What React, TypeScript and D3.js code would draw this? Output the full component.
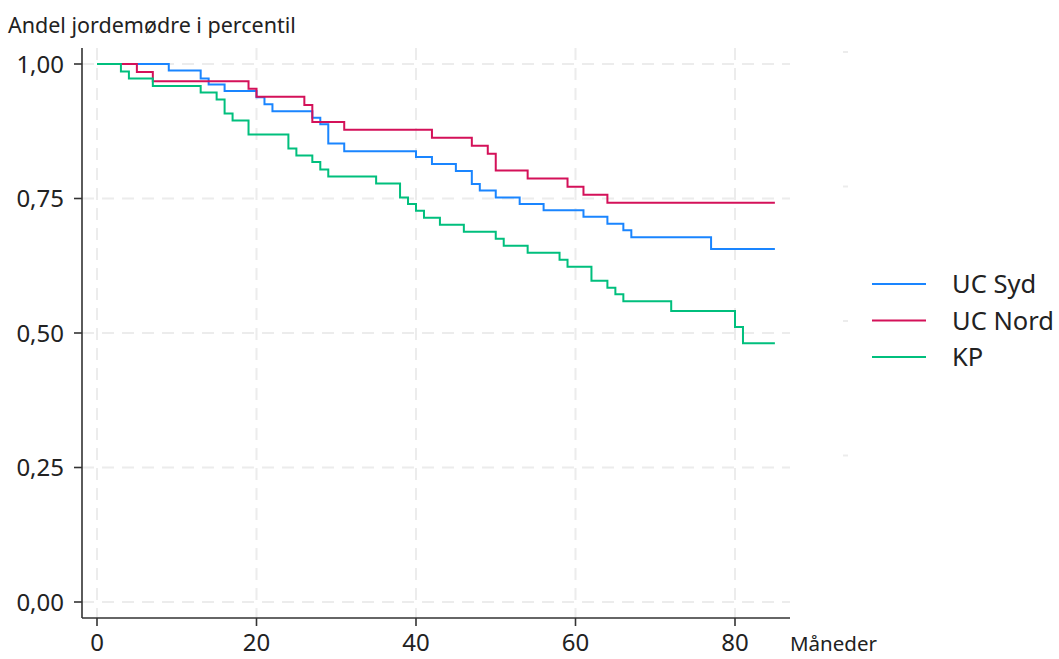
import React from 'react';
import * as d3 from 'd3';

// Kaplan-Meier style step data (months, share remaining)
const sydTimes = [0, 9, 13, 14, 16, 20, 21, 22, 27, 28, 29, 31, 40, 42, 45, 47, 48, 50, 53, 56, 61, 64, 66, 67, 77, 85];
const sydValues = [1, 0.988, 0.973, 0.962, 0.95, 0.938, 0.925, 0.912, 0.9, 0.888, 0.852, 0.838, 0.827, 0.814, 0.801, 0.777, 0.765, 0.752, 0.74, 0.728, 0.716, 0.703, 0.691, 0.678, 0.656, 0.656];

const nordTimes = [0, 5, 7, 19, 20, 26, 27, 31, 42, 47, 49, 50, 54, 59, 61, 64, 85];
const nordValues = [1, 0.985, 0.968, 0.954, 0.939, 0.924, 0.892, 0.878, 0.863, 0.848, 0.833, 0.802, 0.787, 0.772, 0.757, 0.742, 0.742];

const kpTimes = [0, 3, 4, 7, 13, 15, 16, 17, 19, 24, 25, 27, 28, 29, 35, 38, 39, 40, 41, 43, 46, 50, 51, 54, 58, 59, 62, 64, 65, 66, 72, 80, 81, 85];
const kpValues = [1, 0.986, 0.973, 0.959, 0.947, 0.934, 0.908, 0.895, 0.869, 0.843, 0.83, 0.818, 0.804, 0.791, 0.778, 0.752, 0.74, 0.727, 0.714, 0.701, 0.688, 0.675, 0.662, 0.649, 0.636, 0.623, 0.597, 0.584, 0.572, 0.559, 0.541, 0.511, 0.481, 0.481];

const seriesNames = ['UC Syd', 'UC Nord', 'KP'];
const seriesColors = ['#1a85ff', '#d41159', '#00bf7d'];

const xTicks = [0, 20, 40, 60, 80];
const yTicks = [0, 0.25, 0.5, 0.75, 1];
const yTickLabels = ['0,00', '0,25', '0,50', '0,75', '1,00'];

const W = 1059;
const H = 659;
const FONT = '"Noto Sans", "Open Sans", sans-serif';

export default function App() {
  const x = d3.scaleLinear().domain([0, 80]).range([97, 735]);
  const y = d3.scaleLinear().domain([0, 1]).range([602, 64]);

  const axisLeft = 82;
  const axisBottom = 618;
  const axisRight = 790;
  const plotTop = 48;

  const series = [
    { name: seriesNames[0], color: seriesColors[0], t: sydTimes, v: sydValues },
    { name: seriesNames[1], color: seriesColors[1], t: nordTimes, v: nordValues },
    { name: seriesNames[2], color: seriesColors[2], t: kpTimes, v: kpValues },
  ];

  const line = d3
    .line<[number, number]>()
    .x(d => x(d[0]))
    .y(d => y(d[1]))
    .curve(d3.curveStepAfter);

  const legendX = 872;
  const legendY0 = 284;
  const legendStep = 36.5;

  return (
    <svg
      width={W}
      height={H}
      style={{ position: 'absolute', left: 0, top: 0, background: '#fff' }}
      fontFamily={FONT}
    >
      {/* Grid */}
      <g stroke="#ececec" strokeWidth={2} strokeDasharray="12,8">
        {xTicks.map(t => (
          <line key={'gx' + t} x1={x(t)} x2={x(t)} y1={plotTop} y2={axisBottom} />
        ))}
        {yTicks.map(t => (
          <line key={'gy' + t} x1={axisLeft} x2={axisRight} y1={y(t)} y2={y(t)} />
        ))}
      </g>
      <g stroke="#ececec" strokeWidth={2}>
        {yTicks.slice(1).map(t => (
          <line key={'m' + t} x1={843} x2={848} y1={y(t) - 12} y2={y(t) - 12} />
        ))}
      </g>

      {/* Lines */}
      {series.map(s => (
        <path
          key={s.name}
          d={line(s.t.map((t, i) => [t, s.v[i]] as [number, number])) || ''}
          fill="none"
          stroke={s.color}
          strokeWidth={2}
        />
      ))}

      {/* Axes */}
      <g stroke="#333" strokeWidth={1.6}>
        <line x1={axisLeft} x2={axisLeft} y1={plotTop} y2={axisBottom} />
        <line x1={axisLeft} x2={axisRight} y1={axisBottom} y2={axisBottom} />
        {yTicks.map(t => (
          <line key={'ty' + t} x1={axisLeft - 8} x2={axisLeft} y1={y(t)} y2={y(t)} />
        ))}
        {xTicks.map(t => (
          <line key={'tx' + t} x1={x(t)} x2={x(t)} y1={axisBottom} y2={axisBottom + 8} />
        ))}
      </g>
      <g fill="#222" fontSize={24}>
        {yTicks.map((t, i) => (
          <text key={'ly' + t} x={axisLeft - 18} y={y(t) + 8.5} textAnchor="end">
            {yTickLabels[i]}
          </text>
        ))}
        {xTicks.map(t => (
          <text key={'lx' + t} x={x(t)} y={axisBottom + 33} textAnchor="middle">
            {t}
          </text>
        ))}
      </g>
      <text x={790} y={651} fontSize={20.5} fill="#222">
        Måneder
      </text>
      <text x={8} y={33} fontSize={21.5} fill="#222">
        Andel jordemødre i percentil
      </text>

      {/* Legend */}
      {series.map((s, i) => (
        <g key={'lg' + s.name}>
          <line
            x1={legendX}
            x2={legendX + 54}
            y1={legendY0 + i * legendStep}
            y2={legendY0 + i * legendStep}
            stroke={s.color}
            strokeWidth={2}
          />
          <text x={952} y={legendY0 + i * legendStep + 9} fontSize={25.5} fill="#222">
            {s.name}
          </text>
        </g>
      ))}
    </svg>
  );
}
